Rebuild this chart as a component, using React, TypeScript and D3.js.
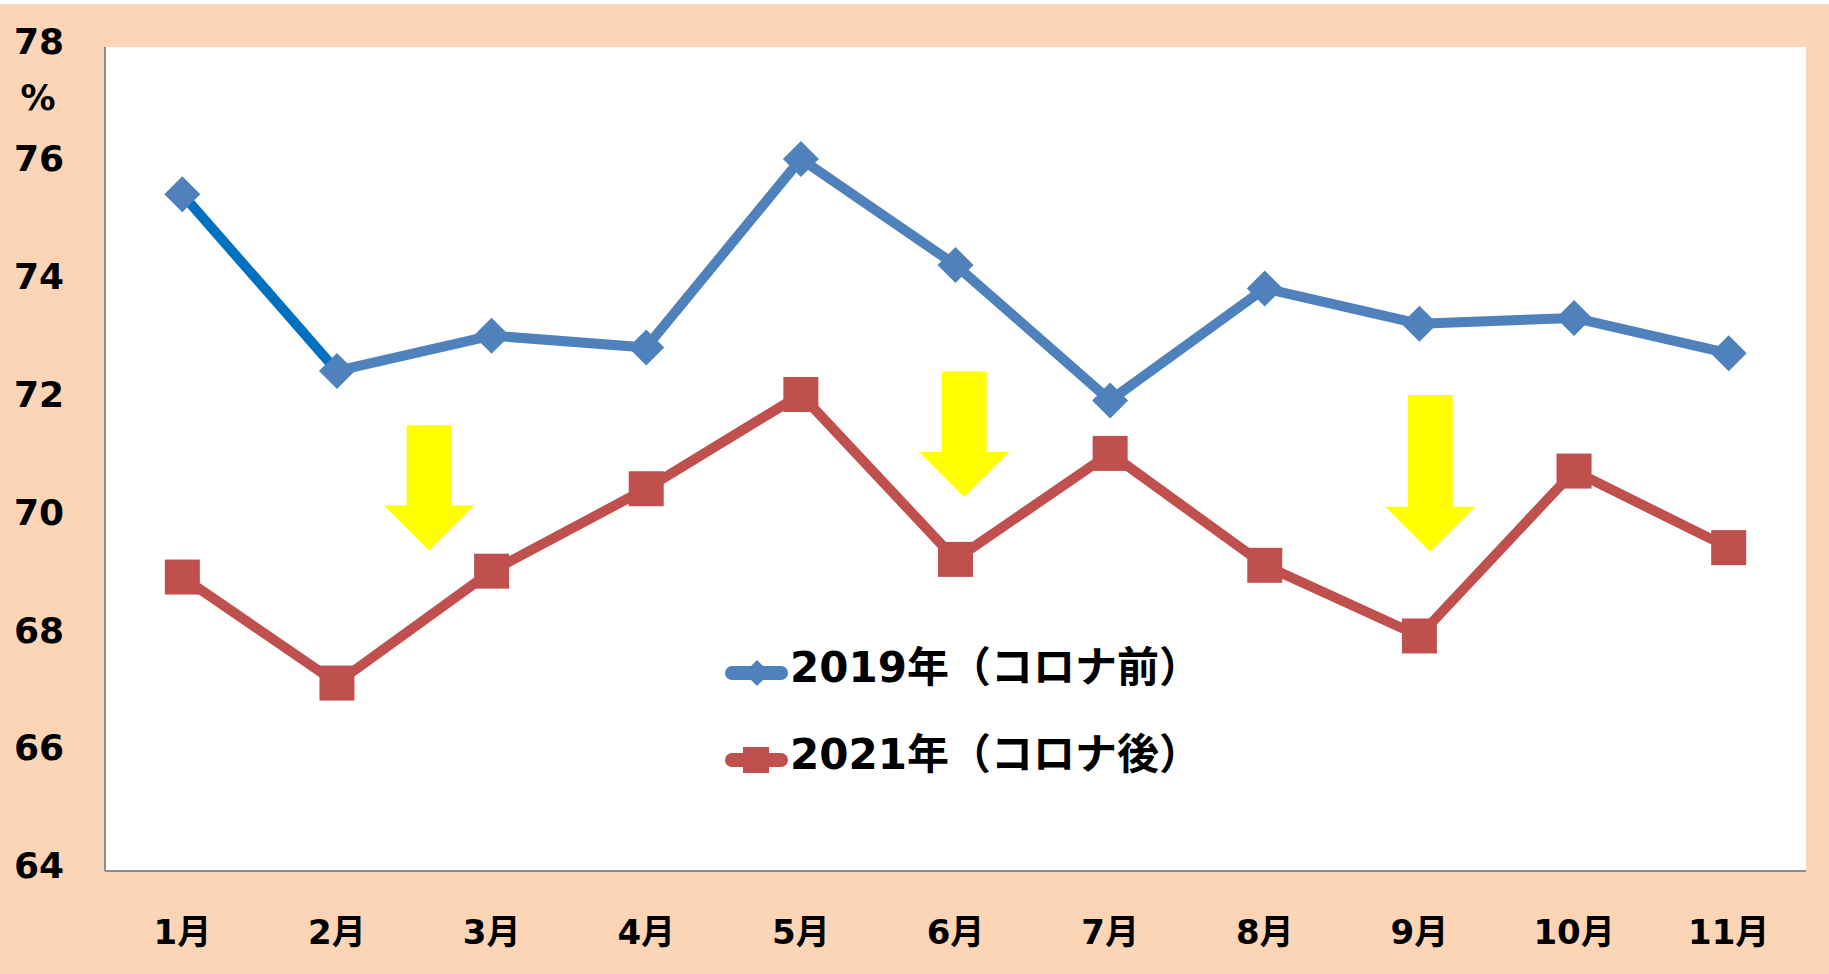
import React from "react";
import * as d3 from "d3";

const months = ["1月", "2月", "3月", "4月", "5月", "6月", "7月", "8月", "9月", "10月", "11月"];
const values2019 = [75.4, 72.4, 73.0, 72.8, 76.0, 74.2, 71.9, 73.8, 73.2, 73.3, 72.7];
const values2021 = [68.9, 67.1, 69.0, 70.4, 72.0, 69.2, 71.0, 69.1, 67.9, 70.7, 69.4];
const yTicks = [64, 66, 68, 70, 72, 74, 76, 78];
const seriesNames = ["2019年（コロナ前）", "2021年（コロナ後）"];
// arrows: position as fractional category index, top and tip in value units
const arrowIdx = [1.596, 5.056, 8.07];
const arrowTop = [71.48, 72.39, 71.99];
const arrowTip = [69.35, 70.26, 69.33];

const W = 1829;
const H = 974;
const plotL = 105;
const plotR = 1806;
const plotT = 47;
const plotB = 871;

const FONT = "'DejaVu Sans', Verdana, 'Noto Sans CJK JP', sans-serif";

export default function App() {
  const x = d3.scaleBand<string>().domain(months).range([plotL, plotR]).padding(0);
  const xc = (m: string) => (x(m) as number) + x.bandwidth() / 2;
  const xi = (i: number) => plotL + x.bandwidth() * (i + 0.5);
  const y = d3.scaleLinear().domain([64, 78]).range([865.6, 41.2]);

  const lineFrom = (offset: number) =>
    d3
      .line<number>()
      .x((_, i) => xc(months[i + offset]))
      .y((d) => y(d));

  const blue = "#4F81BD";
  const blueDark = "#0070C0";
  const red = "#C0504D";

  const dHalf = 18;
  const sq = 35;

  const arrows = arrowIdx.map((ix, k) => {
    const cx = xi(ix);
    const top = y(arrowTop[k]);
    const tip = y(arrowTip[k]);
    const headLen = 45;
    const sw = 22.5;
    const hw = 45;
    const hy = tip - headLen;
    return `M${cx - sw},${top}L${cx + sw},${top}L${cx + sw},${hy}L${cx + hw},${hy}L${cx},${tip}L${cx - hw},${hy}L${cx - sw},${hy}Z`;
  });

  return (
    <svg
      width={W}
      height={H}
      style={{ position: "absolute", left: 0, top: 0, display: "block" }}
    >
      <rect x={0} y={0} width={W} height={H} fill="#ffffff" />
      <rect x={0} y={4} width={W} height={H - 4} fill="#FBD5B5" />
      <rect x={plotL} y={plotT} width={plotR - plotL} height={plotB - plotT} fill="#ffffff" />
      <line x1={plotL} y1={plotT} x2={plotL} y2={plotB} stroke="#8c8c8c" strokeWidth={2} />
      <line x1={plotL} y1={plotB} x2={plotR} y2={plotB} stroke="#8c8c8c" strokeWidth={2} />

      {/* y tick labels */}
      {yTicks.map((t) => (
        <text
          key={t}
          x={39}
          y={y(t)}
          textAnchor="middle"
          dominantBaseline="central"
          fontFamily={FONT}
          fontWeight="bold"
          fontSize={36}
          fill="#000"
        >
          {t}
        </text>
      ))}
      <text
        x={38}
        y={98}
        textAnchor="middle"
        dominantBaseline="central"
        fontFamily={FONT}
        fontWeight="bold"
        fontSize={35}
        fill="#000"
      >
        %
      </text>

      {/* x labels */}
      {months.map((m) => (
        <text
          key={m}
          x={xc(m)}
          y={932}
          textAnchor="middle"
          dominantBaseline="central"
          fontFamily={FONT}
          fontWeight="bold"
          fontSize={34}
          fill="#000"
        >
          {m}
        </text>
      ))}

      {/* 2021 line */}
      <path d={lineFrom(0)(values2021) || ""} fill="none" stroke={red} strokeWidth={10} strokeLinejoin="round" />
      {values2021.map((v, i) => (
        <rect
          key={"r" + i}
          x={xc(months[i]) - sq / 2}
          y={y(v) - sq / 2}
          width={sq}
          height={sq}
          fill={red}
        />
      ))}

      {/* 2019 line */}
      <path d={lineFrom(1)(values2019.slice(1)) || ""} fill="none" stroke={blue} strokeWidth={10} strokeLinejoin="round" />
      <path d={lineFrom(0)(values2019.slice(0, 2)) || ""} fill="none" stroke={blueDark} strokeWidth={10} />
      {values2019.map((v, i) => {
        const cx = xc(months[i]);
        const cy = y(v);
        return (
          <path
            key={"b" + i}
            d={`M${cx},${cy - dHalf}L${cx + dHalf},${cy}L${cx},${cy + dHalf}L${cx - dHalf},${cy}Z`}
            fill={blue}
          />
        );
      })}

      {/* arrows */}
      {arrows.map((d, k) => (
        <path key={"a" + k} d={d} fill="#FFFF00" />
      ))}

      {/* legend */}
      <g>
        <line x1={732} y1={673} x2={781} y2={673} stroke={blue} strokeWidth={14} strokeLinecap="round" />
        <path d={`M757,660L770,673L757,686L744,673Z`} fill={blue} />
        <text x={790} y={667} dominantBaseline="central" fontFamily={FONT} fontWeight="bold" fontSize={42} fill="#000">
          {seriesNames[0]}
        </text>
        <line x1={732} y1={760} x2={781} y2={760} stroke={red} strokeWidth={14} strokeLinecap="round" />
        <rect x={743} y={747} width={26} height={26} fill={red} />
        <text x={790} y={754} dominantBaseline="central" fontFamily={FONT} fontWeight="bold" fontSize={42} fill="#000">
          {seriesNames[1]}
        </text>
      </g>
    </svg>
  );
}
